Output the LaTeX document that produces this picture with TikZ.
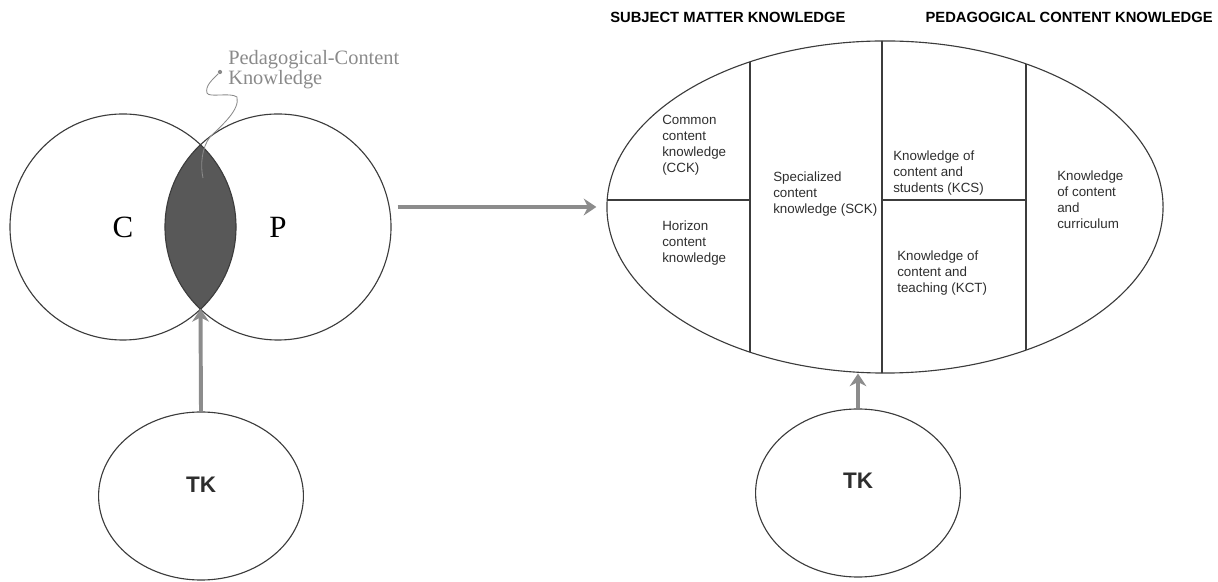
\documentclass[tikz,border=0pt]{standalone}
\usepackage{fontspec}
\setmainfont{Liberation Serif}
\setsansfont{Liberation Sans}
\usepackage{tikz}
\usetikzlibrary{shapes.geometric,arrows.meta,positioning,backgrounds}
\definecolor{pckline}{HTML}{3C3C3C}
\definecolor{pcklens}{HTML}{585858}
\definecolor{pckarrow}{HTML}{8C8C8C}
\definecolor{pcktext}{HTML}{2E2E2E}
\definecolor{pcknote}{HTML}{8A8A8A}

\begin{document}
\begin{tikzpicture}[x=0.025cm,y=-0.025cm,
    venn/.style={draw=pckline, line width=0.8pt, circle, minimum size=5.65cm,
                 inner sep=0pt, font=\fontsize{22}{24}\selectfont},
    tkell/.style={draw=pckline, line width=0.8pt, ellipse,
                  minimum width=5.12cm, minimum height=4.2cm},
    tktext/.style={font=\sffamily\bfseries\fontsize{16}{18}\selectfont, text=pcktext},
    part/.style={align=left, anchor=west, inner sep=0pt, text=pcktext,
                 font=\sffamily\fontsize{9.5}{11.4}\selectfont},
    head/.style={font=\sffamily\bfseries\fontsize{10.5}{12}\selectfont, inner sep=0pt},
    bigarrow/.style={-{Stealth[length=9pt,width=12pt,inset=3pt]},
                     draw=pckarrow, line width=2.8pt}]

  \useasboundingbox (0,0) rectangle (1218,582);

  %% Left: C and P
  \node[venn] (cc) at (123,227) {C};
  \node[venn] (pc) at (278,227) {P};
  \begin{scope}[on background layer]
    \clip (cc.center) circle [radius=2.825cm];
    \fill[pcklens] (pc.center) circle [radius=2.825cm];
  \end{scope}
  \coordinate (lensbot) at (200.5,309);

  %% Note on the overlap
  \node[align=left, anchor=west, inner sep=0pt, text=pcknote,
        font=\fontsize{14.5}{14.2}\selectfont]
    (pcklabel) at (228,70) {Pedagogical-Content\\Knowledge};
  \node[circle, fill=pcknote, inner sep=0pt, minimum size=3pt] (pckdot) at (220,72) {};
  \draw[pcknote, line width=0.6pt]
    (pckdot) .. controls (212,80) and (205,86) .. (207,93)
    .. controls (209,98) and (230,92) .. (237,97)
    .. controls (240,110) and (222,125) .. (210,137)
    .. controls (202,147) and (200,165) .. (203,178);

  %% TK (left)
  \node[tkell] (tkl) at (201,496) {};
  \node[tktext] (tkltext) at ([yshift=0.28cm]tkl.center) {TK};
  \draw[bigarrow] (tkl.north) -- (lensbot);

  %% Right: knowledge ellipse
  \node[draw=pckline, line width=0.8pt, ellipse, inner sep=0pt,
        minimum width=13.9cm, minimum height=8.3cm]
    (big) at (885,207) {};
  \begin{scope}
    \clip (big.center) ellipse [x radius=6.95cm, y radius=4.15cm];
    \draw[pckline, line width=0.8pt]
      (750,0) -- (750,400) (882,0) -- (882,400) (1026,0) -- (1026,400)
      (600,200) -- (750,200) (882,200) -- (1026,200);
  \end{scope}

  \node[part] (cck) at (662,145) {Common\\content\\knowledge\\(CCK)};
  \node[part] (hck) at (662,243) {Horizon\\content\\knowledge};
  \node[part] (sck) at (773,194) {Specialized\\content\\knowledge (SCK)};
  \node[part] (kcs) at (893,173) {Knowledge of\\content and\\students (KCS)};
  \node[part] (kct) at (897,273) {Knowledge of\\content and\\teaching (KCT)};
  \node[part] (kcc) at (1057,200) {Knowledge\\of content\\and\\curriculum};

  %% Headings
  \node[head, anchor=west] (smkhead) at (610,17) {SUBJECT MATTER KNOWLEDGE};
  \node[head, anchor=east] (pckhead) at (1213,17) {PEDAGOGICAL CONTENT KNOWLEDGE};

  %% Arrow C-P -> ellipse
  \draw[bigarrow] ([xshift=0.15cm]pc.east |- big.west) -- ([xshift=-0.25cm]big.west);

  %% TK (right)
  \node[tkell] (tkr) at (858,493) {};
  \node[tktext] (tkrtext) at ([yshift=0.3cm]tkr.center) {TK};
  \draw[bigarrow] (tkr.north) -- (tkr.north |- big.south);

\end{tikzpicture}
\end{document}
